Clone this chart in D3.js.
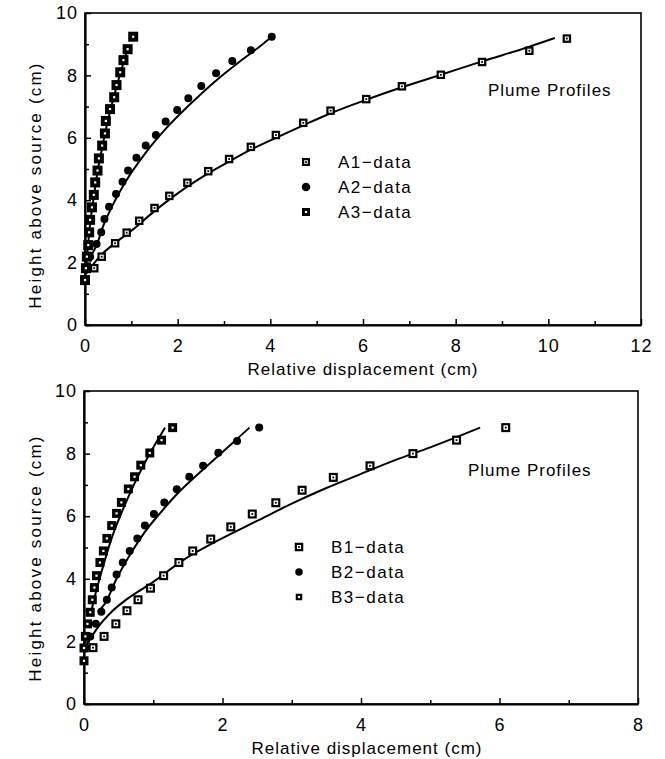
<!DOCTYPE html>
<html>
<head>
<meta charset="utf-8">
<title>Plume Profiles</title>
<script src="https://cdn.jsdelivr.net/npm/d3@7"></script>
<style>
  body { margin: 0; background: #fff; }
  text { font-family: "Liberation Sans", Arial, Helvetica, sans-serif; fill: #000; }
</style>
</head>
<body>
<svg width="665" height="759"></svg>
<script>
// ---- upper panel (A) ----
const a1X = [0.2, 0.36, 0.65, 0.9, 1.17, 1.5, 1.82, 2.21, 2.66, 3.11, 3.58, 4.12, 4.71, 5.3, 6.07, 6.84, 7.68, 8.57, 9.59, 10.4];
const a1Y = [1.82, 2.19, 2.62, 2.96, 3.34, 3.75, 4.14, 4.56, 4.93, 5.32, 5.71, 6.09, 6.48, 6.87, 7.24, 7.65, 8.02, 8.43, 8.79, 9.18];
const a2X = [0.04, 0.11, 0.25, 0.35, 0.42, 0.52, 0.67, 0.81, 0.93, 1.11, 1.31, 1.53, 1.74, 1.99, 2.23, 2.51, 2.83, 3.18, 3.58, 4.03];
const a2Y = [1.87, 2.19, 2.6, 2.97, 3.4, 3.79, 4.2, 4.59, 4.95, 5.36, 5.75, 6.09, 6.52, 6.89, 7.27, 7.66, 8.07, 8.46, 8.81, 9.24];
const a3X = [0, 0.02, 0.04, 0.07, 0.09, 0.11, 0.15, 0.19, 0.22, 0.27, 0.3, 0.37, 0.43, 0.45, 0.54, 0.63, 0.68, 0.76, 0.83, 0.92, 1.04];
const a3Y = [1.44, 1.82, 2.19, 2.56, 2.97, 3.37, 3.77, 4.17, 4.57, 4.95, 5.34, 5.75, 6.14, 6.54, 6.92, 7.3, 7.69, 8.1, 8.49, 8.84, 9.24];
// fitted curves
const a1FitX = [0.03, 0.32, 0.65, 1.0, 1.5, 2.0, 2.66, 3.11, 3.58, 4.12, 4.71, 5.29, 6.07, 6.84, 7.68, 8.57, 9.59, 10.14];
const a1FitY = [1.65, 2.2, 2.63, 3.02, 3.65, 4.22, 4.86, 5.24, 5.62, 6.0, 6.4, 6.78, 7.22, 7.62, 8.02, 8.45, 8.92, 9.2];
const a2FitX = [0.12, 0.25, 0.4, 0.6, 0.9, 1.3, 1.75, 2.25, 2.8, 3.3, 3.75, 4.0];
const a2FitY = [2.2, 2.55, 3.2, 3.85, 4.65, 5.5, 6.3, 7.05, 7.8, 8.4, 8.9, 9.2];
const a3FitX = [0.0, 0.05, 0.1, 0.18, 0.27, 0.38, 0.5, 0.62, 0.76, 0.92];
const a3FitY = [1.5, 2.3, 3.1, 4.0, 4.9, 5.75, 6.6, 7.3, 8.05, 8.85];

// ---- lower panel (B) ----
const b1X = [0.13, 0.29, 0.46, 0.62, 0.78, 0.96, 1.15, 1.37, 1.57, 1.83, 2.12, 2.43, 2.77, 3.15, 3.6, 4.13, 4.75, 5.38, 6.09];
const b1Y = [1.8, 2.16, 2.56, 2.98, 3.33, 3.7, 4.1, 4.52, 4.89, 5.27, 5.66, 6.07, 6.43, 6.83, 7.24, 7.61, 8.0, 8.43, 8.83];
const b2X = [0.02, 0.09, 0.17, 0.25, 0.33, 0.4, 0.47, 0.56, 0.66, 0.77, 0.88, 1.01, 1.16, 1.34, 1.52, 1.72, 1.94, 2.21, 2.53];
const b2Y = [1.8, 2.16, 2.56, 2.95, 3.33, 3.72, 4.14, 4.52, 4.89, 5.29, 5.7, 6.07, 6.44, 6.86, 7.26, 7.61, 8.03, 8.4, 8.83];
const b3X = [0, 0.0, 0.02, 0.05, 0.09, 0.12, 0.15, 0.18, 0.23, 0.28, 0.33, 0.4, 0.47, 0.54, 0.64, 0.73, 0.82, 0.95, 1.12, 1.28];
const b3Y = [1.38, 1.79, 2.16, 2.56, 2.93, 3.33, 3.72, 4.1, 4.52, 4.89, 5.29, 5.7, 6.09, 6.44, 6.87, 7.26, 7.63, 8.02, 8.43, 8.83];
const b1FitX = [0.04, 0.2, 0.4, 0.62, 1.0, 1.4, 2.0, 2.5, 3.0, 3.5, 4.0, 4.5, 5.0, 5.72];
const b1FitY = [1.9, 2.45, 2.95, 3.35, 3.9, 4.55, 5.3, 5.85, 6.4, 6.9, 7.35, 7.8, 8.2, 8.83];
const b2FitX = [0.2, 0.3, 0.47, 0.66, 0.88, 1.1, 1.34, 1.6, 1.9, 2.15, 2.39];
const b2FitY = [2.95, 3.2, 4.0, 4.75, 5.5, 6.1, 6.7, 7.25, 7.85, 8.35, 8.83];
const b3FitX = [0.1, 0.13, 0.25, 0.4, 0.54, 0.73, 0.95, 1.17];
const b3FitY = [2.9, 3.2, 4.2, 5.3, 6.1, 7.05, 8.0, 8.83];

// ticks and labels
const yMajor = [0, 2, 4, 6, 8, 10];
const yMinor = [1, 3, 5, 7, 9];
const xMajorA = [0, 2, 4, 6, 8, 10, 12];
const xMinorA = [1, 3, 5, 7, 9, 11];
const xMajorB = [0, 2, 4, 6, 8];
const xMinorB = [1, 3, 5, 7];
const namesA = ["A1\u2212data", "A2\u2212data", "A3\u2212data"];
const namesB = ["B1\u2212data", "B2\u2212data", "B3\u2212data"];
const xTitle = "Relative displacement (cm)";
const yTitle = "Height above source (cm)";
const note = "Plume Profiles";

const zip = (xs, ys) => xs.map((x, i) => ({ x: x, y: ys[i] }));

const svg = d3.select("svg");

// marker shapes: hollow square w/ dot, filled dot, filled square w/ white dot
function marker(g, kind, cx, cy, s) {
  if (kind === "dot") {
    g.append("circle").attr("cx", cx).attr("cy", cy).attr("r", s / 2).attr("fill", "#000");
    return;
  }
  g.append("rect").attr("x", cx - s / 2).attr("y", cy - s / 2).attr("width", s).attr("height", s).attr("fill", "#000");
  const w = kind === "hollow" ? s - 4.4 : 2.2;
  g.append("rect").attr("x", cx - w / 2).attr("y", cy - w / 2).attr("width", w).attr("height", w).attr("fill", "#fff");
  if (kind === "hollow") {
    g.append("rect").attr("x", cx - 0.9).attr("y", cy - 0.9).attr("width", 1.8).attr("height", 1.8).attr("fill", "#000");
  }
}

function panel(p) {
  const x = d3.scaleLinear().domain([0, p.xMax]).range([p.left, p.right]);
  const y = d3.scaleLinear().domain([0, 10]).range([p.bottom, p.top]);
  const g = svg.append("g");

  // frame
  g.append("rect")
    .attr("x", p.left).attr("y", p.top)
    .attr("width", p.right - p.left).attr("height", p.bottom - p.top)
    .attr("fill", "none").attr("stroke", "#000").attr("stroke-width", 1.6);

  const styleAxis = a => {
    a.select(".domain").attr("stroke-width", 2.2);
    a.selectAll(".tick line").attr("stroke-width", 1.5);
    a.selectAll("text")
      .style("font-family", '"Liberation Sans", Arial, sans-serif')
      .style("font-size", "18px").style("letter-spacing", "1px").attr("fill", "#000");
  };

  // x axis
  g.append("g").attr("transform", `translate(0,${p.bottom})`)
    .call(d3.axisBottom(x).tickValues(p.xMajor).tickSize(-6).tickSizeOuter(0).tickPadding(14).tickFormat(d3.format("d")))
    .call(styleAxis);
  g.append("g").attr("transform", `translate(0,${p.bottom})`)
    .call(d3.axisBottom(x).tickValues(p.xMinor).tickSize(-4).tickSizeOuter(0).tickFormat(""))
    .call(a => a.select(".domain").remove())
    .call(a => a.selectAll(".tick line").attr("stroke-width", 1.5));

  // y axis
  g.append("g").attr("transform", `translate(${p.left},0)`)
    .call(d3.axisLeft(y).tickValues(yMajor).tickSize(-6).tickSizeOuter(0).tickPadding(7).tickFormat(d3.format("d")))
    .call(styleAxis);
  g.append("g").attr("transform", `translate(${p.left},0)`)
    .call(d3.axisLeft(y).tickValues(yMinor).tickSize(-4).tickSizeOuter(0).tickFormat(""))
    .call(a => a.select(".domain").remove())
    .call(a => a.selectAll(".tick line").attr("stroke-width", 1.5));

  // titles
  g.append("text")
    .attr("x", p.xTitleX).attr("y", p.bottom + 50)
    .attr("text-anchor", "middle").style("font-size", "17px").style("letter-spacing", "1px")
    .text(xTitle);
  g.append("text")
    .attr("transform", `translate(41,${p.yTitleY}) rotate(-90)`)
    .attr("text-anchor", "middle").style("font-size", "17px").style("letter-spacing", "2.2px")
    .text(yTitle);

  // fitted curves
  const line = d3.line().x(d => x(d.x)).y(d => y(d.y)).curve(d3.curveMonotoneX);
  p.series.forEach(s => {
    g.append("path").datum(zip(s.fitX, s.fitY))
      .attr("fill", "none").attr("stroke", "#000").attr("stroke-width", 2)
      .attr("d", line);
  });

  // data points
  p.series.forEach(s => {
    zip(s.xs, s.ys).forEach(d => marker(g, s.kind, x(d.x), y(d.y), s.size));
  });

  // legend
  p.series.forEach((s, i) => {
    const ly = p.legY + i * 25;
    marker(g, s.kind, p.legX, ly, s.legSize);
    g.append("text").attr("x", p.legX + 32).attr("y", ly + 6)
      .style("font-size", "17px").style("letter-spacing", "1.5px")
      .text(s.name);
  });

  g.append("text").attr("x", p.noteX).attr("y", p.noteY)
    .style("font-size", "17px").style("letter-spacing", "1px")
    .text(note);
}

panel({
  left: 85, right: 641, top: 13, bottom: 325, xMax: 12,
  xMajor: xMajorA, xMinor: xMinorA,
  xTitleX: 363, yTitleY: 185,
  legX: 306, legY: 162, noteX: 488, noteY: 96,
  series: [
    { name: namesA[0], xs: a1X, ys: a1Y, fitX: a1FitX, fitY: a1FitY, kind: "hollow", size: 8.5, legSize: 8 },
    { name: namesA[1], xs: a2X, ys: a2Y, fitX: a2FitX, fitY: a2FitY, kind: "dot", size: 8, legSize: 8.5 },
    { name: namesA[2], xs: a3X, ys: a3Y, fitX: a3FitX, fitY: a3FitY, kind: "solid", size: 10, legSize: 8 }
  ]
});

panel({
  left: 84, right: 638, top: 391, bottom: 704, xMax: 8,
  xMajor: xMajorB, xMinor: xMinorB,
  xTitleX: 367, yTitleY: 558,
  legX: 299, legY: 547, noteX: 468, noteY: 476,
  series: [
    { name: namesB[0], xs: b1X, ys: b1Y, fitX: b1FitX, fitY: b1FitY, kind: "hollow", size: 9, legSize: 8.5 },
    { name: namesB[1], xs: b2X, ys: b2Y, fitX: b2FitX, fitY: b2FitY, kind: "dot", size: 8, legSize: 7.5 },
    { name: namesB[2], xs: b3X, ys: b3Y, fitX: b3FitX, fitY: b3FitY, kind: "solid", size: 9, legSize: 6.5 }
  ]
});
</script>
</body>
</html>
